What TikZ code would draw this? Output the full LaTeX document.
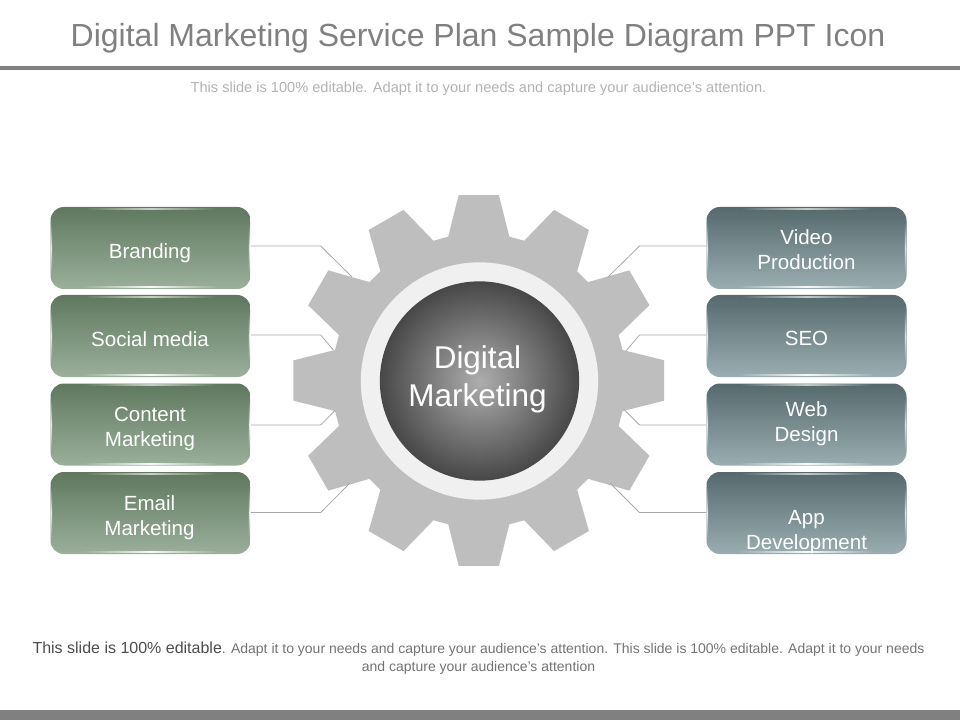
\documentclass[tikz,border=0pt]{standalone}
\usepackage{fontspec}
\setmainfont{Liberation Sans}
\definecolor{gtop}{HTML}{5F785F}
\definecolor{gbot}{HTML}{9BAF9B}
\definecolor{btop}{HTML}{56696C}
\definecolor{bbot}{HTML}{9AAEB2}
\definecolor{rulegray}{HTML}{808080}
\definecolor{gearfill}{HTML}{BEBEBE}
\definecolor{ringfill}{HTML}{F0F0F0}
\definecolor{linegray}{HTML}{A8A8A8}
\tikzset{
  boxbase/.style={rounded corners=10pt,minimum width=150pt,minimum height=61.5pt,inner sep=0pt,shade,draw=none},
  gbox/.style={boxbase,top color=gtop,bottom color=gbot},
  bbox/.style={boxbase,top color=btop,bottom color=bbot},
  boxlabel/.style={text=white,font=\fontsize{15.4}{18.75}\selectfont,align=center,inner sep=0pt},
  link/.style={draw=linegray,line width=0.6pt},
}
\newcommand{\gloss}[3]{% box node, top colour, bottom colour
  \shade[left color=#2,right color=#2,middle color=white!65!#2] ([xshift=-50pt,yshift=-1pt]#1.north) rectangle ([xshift=50pt,yshift=-1.8pt]#1.north);
  \shade[left color=#3,right color=#3,middle color=white!92!#3] ([xshift=-50pt,yshift=1pt]#1.south) rectangle ([xshift=50pt,yshift=1.9pt]#1.south);
  \shade[top color=#2!80!#3,bottom color=#2!20!#3,middle color=white!85!#2] ([yshift=-12pt,xshift=0.5pt]#1.north west) rectangle ([yshift=12pt,xshift=1.4pt]#1.south west);
  \shade[top color=#2!80!#3,bottom color=#2!20!#3,middle color=white!85!#2] ([yshift=-12pt,xshift=-1.4pt]#1.north east) rectangle ([yshift=12pt,xshift=-0.5pt]#1.south east);
}
\begin{document}
\begin{tikzpicture}[x=0.75pt,y=-0.75pt]
\useasboundingbox (0,0) rectangle (960,720);
% title block
\node[text=rulegray,font=\fontsize{24}{28}\selectfont,inner sep=0pt] (title) at (478,38) {Digital Marketing Service Plan Sample Diagram PPT Icon};
\fill[rulegray] (0,66) rectangle (960,70);
\node[text=black!30,font=\fontsize{10.95}{13}\selectfont,inner sep=0pt] (sub) at (478.5,88.5) {This slide is 100\% editable. Adapt it to your needs and capture your audience's attention.};
% gear
\fill[gearfill,shift={(478.8,380.5)}] (-12:147)
  \foreach \a in {0,30,...,330} { -- (\a-6.2:186.5) -- (\a+6.2:186.5) -- (\a+12:147) -- (\a+18:147) } -- cycle;
\node[circle,fill=ringfill,minimum size=178pt,inner sep=0pt] (ring) at (479.5,381) {};
\node[circle,inner color=black!32,outer color=black!72,minimum size=149.5pt,inner sep=0pt] (hub) at (479.5,381) {};
\node[text=white,font=\fontsize{23.6}{28.5}\selectfont,align=center,inner sep=0pt] (hubtext) at (477.5,379) {Digital\\Marketing};
% boxes
\node[gbox] (b1) at (150.5,248) {};
\node[gbox] (b2) at (150.5,336) {};
\node[gbox] (b3) at (150.5,424.5) {};
\node[gbox] (b4) at (150.5,513) {};
\node[bbox] (d1) at (806.5,248) {};
\node[bbox] (d2) at (806.5,336) {};
\node[bbox] (d3) at (806.5,424.5) {};
\node[bbox] (d4) at (806.5,513) {};
\gloss{b1}{gtop}{gbot}\gloss{b2}{gtop}{gbot}\gloss{b3}{gtop}{gbot}\gloss{b4}{gtop}{gbot}
\gloss{d1}{btop}{bbot}\gloss{d2}{btop}{bbot}\gloss{d3}{btop}{bbot}\gloss{d4}{btop}{bbot}
\node[boxlabel] (l1) at (150,253) {Branding};
\node[boxlabel] (l2) at (150,339) {Social media};
\node[boxlabel] (l3) at (150,429) {Content\\Marketing};
\node[boxlabel] (l4) at (149.5,518) {Email\\Marketing};
\node[boxlabel] (r1) at (806.5,250) {Video\\Production};
\node[boxlabel] (r2) at (806.5,338) {SEO};
\node[boxlabel] (r3) at (806.5,424) {Web\\Design};
\node[boxlabel] (r4) at (806.5,532.5) {App\\Development};
% connectors
\coordinate (e1) at (320.7,246); \coordinate (t1) at (352,277);
\coordinate (e2) at (320.7,335); \coordinate (t2) at (333.3,350);
\coordinate (e3) at (320.7,425); \coordinate (t3) at (335,410.5);
\coordinate (e4) at (320.7,512.5); \coordinate (t4) at (350,483);
\coordinate (f1) at (639.5,246); \coordinate (u1) at (608,277);
\coordinate (f2) at (639.5,335); \coordinate (u2) at (626,351);
\coordinate (f3) at (639.5,425); \coordinate (u3) at (624,409.5);
\coordinate (f4) at (639.5,512.5); \coordinate (u4) at (610,483);
\foreach \i in {1,2,3,4} {
  \draw[link] (b\i.east |- e\i) -- (e\i) -- (t\i);
  \draw[link] (d\i.west |- f\i) -- (f\i) -- (u\i);
}
% footer
\node[text=black!55,align=center,inner sep=0pt,font=\fontsize{10.5}{13.5}\selectfont] (foot) at (478.5,658)
  {{\fontsize{12}{13.5}\selectfont\color{black!70}This slide is 100\% editable}. Adapt it to your needs and capture your audience's attention. This slide is 100\% editable. Adapt it to your needs\\and capture your audience's attention};
\fill[rulegray] (0,710) rectangle (960,720);
\end{tikzpicture}
\end{document}
